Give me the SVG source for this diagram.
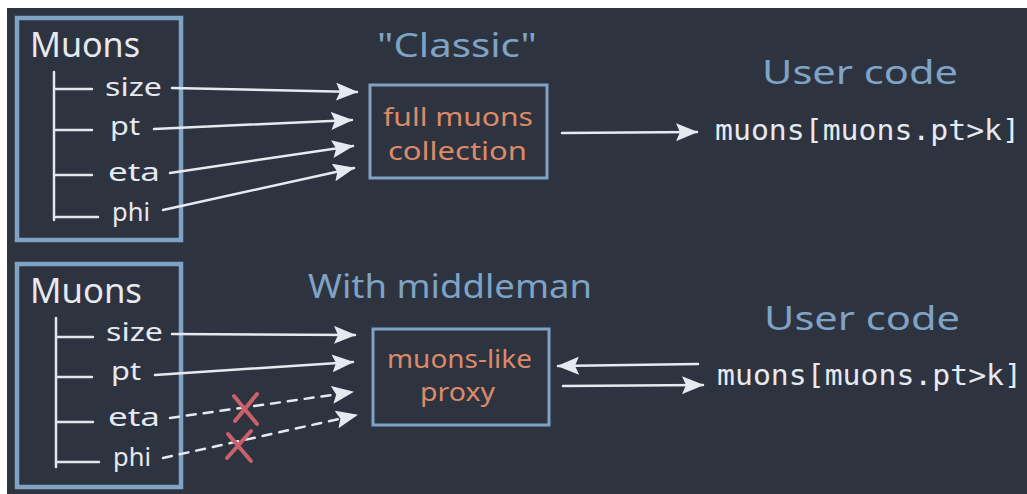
<svg xmlns="http://www.w3.org/2000/svg" width="1027" height="494" viewBox="0 0 1027 494">
<style>
.hand{font-family:"Noto Sans","DejaVu Sans",sans-serif}
.title{fill:#7ea3c4;font-size:33px}
.lbl{fill:#e6e9ef;font-size:25px}
.org{fill:#dc8a68;font-size:25px}
.code{font-family:"DejaVu Sans Mono","Liberation Mono",monospace;fill:#e6e9ef;font-size:29px}
.outer{fill:none;stroke:#7ea3c4;stroke-width:4.5}
.inner{fill:none;stroke:#7ea3c4;stroke-width:3}
.tree{stroke:#e1e5ec;stroke-width:2.5;fill:none;stroke-linecap:round}
.conn{stroke:#e6e9ef;stroke-width:2.5;fill:none;stroke-linecap:round}
.dash{stroke-dasharray:9 8}
.x{stroke:#c9606a;stroke-width:4;stroke-linecap:round;fill:none}
</style>
<defs>
<marker id="ah" viewBox="0 0 22 18" refX="21" refY="9" markerWidth="22" markerHeight="18" markerUnits="userSpaceOnUse" orient="auto">
<path d="M0,0 L22,9 L0,18 L4,9 Z" fill="#e6e9ef"/>
</marker>
</defs>
<rect x="7" y="8" width="1020" height="486" fill="#2e3340"/>

<g id="muons-top">
<rect class="outer" x="17" y="18" width="164" height="222"/>
<text class="hand lbl" x="30" y="57" textLength="110" lengthAdjust="spacingAndGlyphs" style="font-size:34px">Muons</text>
<path class="tree" d="M54,72 V220 M55,89 H92 M55,130 H92 M56,175 H92 M56,217 H98"/>
<text class="hand lbl" x="105" y="96" textLength="57" lengthAdjust="spacingAndGlyphs">size</text>
<text class="hand lbl" x="110" y="135" textLength="30" lengthAdjust="spacingAndGlyphs">pt</text>
<text class="hand lbl" x="108" y="181" textLength="52" lengthAdjust="spacingAndGlyphs">eta</text>
<text class="hand lbl" x="112" y="221" textLength="38" lengthAdjust="spacingAndGlyphs">phi</text>
</g>

<g id="classic">
<text class="hand title" x="377" y="57" textLength="160" lengthAdjust="spacingAndGlyphs">"Classic"</text>
<rect class="inner" x="370" y="85" width="177" height="93"/>
<text class="hand org" x="383" y="126" textLength="150" lengthAdjust="spacingAndGlyphs">full muons</text>
<text class="hand org" x="388" y="160" textLength="139" lengthAdjust="spacingAndGlyphs">collection</text>
</g>

<g id="user-top">
<text class="hand title" x="762" y="84" textLength="196" lengthAdjust="spacingAndGlyphs">User code</text>
<text class="code" x="715" y="140" textLength="305" lengthAdjust="spacingAndGlyphs">muons[muons.pt&gt;k]</text>
</g>

<g id="muons-bottom">
<rect class="outer" x="17" y="264" width="164" height="223"/>
<text class="hand lbl" x="30" y="303" textLength="112" lengthAdjust="spacingAndGlyphs" style="font-size:34px">Muons</text>
<path class="tree" d="M56,318 V467 M57,337 H93 M57,377 H92 M57,422 H93 M58,462 H99"/>
<text class="hand lbl" x="106" y="341" textLength="57" lengthAdjust="spacingAndGlyphs">size</text>
<text class="hand lbl" x="111" y="380" textLength="30" lengthAdjust="spacingAndGlyphs">pt</text>
<text class="hand lbl" x="108" y="426" textLength="52" lengthAdjust="spacingAndGlyphs">eta</text>
<text class="hand lbl" x="113" y="466" textLength="38" lengthAdjust="spacingAndGlyphs">phi</text>
</g>

<g id="middleman">
<text class="hand title" x="308" y="298" textLength="284" lengthAdjust="spacingAndGlyphs">With middleman</text>
<rect class="inner" x="373" y="329" width="176" height="96"/>
<text class="hand org" x="387" y="368" textLength="145" lengthAdjust="spacingAndGlyphs">muons-like</text>
<text class="hand org" x="420" y="401" textLength="75" lengthAdjust="spacingAndGlyphs">proxy</text>
</g>

<g id="user-bottom">
<text class="hand title" x="764" y="330" textLength="196" lengthAdjust="spacingAndGlyphs">User code</text>
<text class="code" x="717" y="385" textLength="305" lengthAdjust="spacingAndGlyphs">muons[muons.pt&gt;k]</text>
</g>

<g id="connectors">
<line class="conn" x1="172" y1="88" x2="357" y2="92" marker-end="url(#ah)"/>
<line class="conn" x1="154" y1="129" x2="352" y2="120" marker-end="url(#ah)"/>
<line class="conn" x1="170" y1="173" x2="353" y2="146" marker-end="url(#ah)"/>
<line class="conn" x1="163" y1="210" x2="354" y2="168" marker-end="url(#ah)"/>
<line class="conn" x1="562" y1="133" x2="697" y2="132" marker-end="url(#ah)"/>

<line class="conn" x1="172" y1="334" x2="355" y2="335" marker-end="url(#ah)"/>
<line class="conn" x1="155" y1="375" x2="353" y2="362" marker-end="url(#ah)"/>
<line class="conn dash" x1="170" y1="418" x2="353" y2="392" marker-end="url(#ah)"/>
<line class="conn dash" x1="163" y1="458" x2="357" y2="415" marker-end="url(#ah)"/>
<line class="conn" x1="698" y1="364" x2="558" y2="366" marker-end="url(#ah)"/>
<line class="conn" x1="563" y1="386" x2="703" y2="385" marker-end="url(#ah)"/>

<path class="x" d="M234,396 L257,424 M257,394 L235,421"/>
<path class="x" d="M228,434 L251,461 M251,431 L227,458"/>
</g>
</svg>
